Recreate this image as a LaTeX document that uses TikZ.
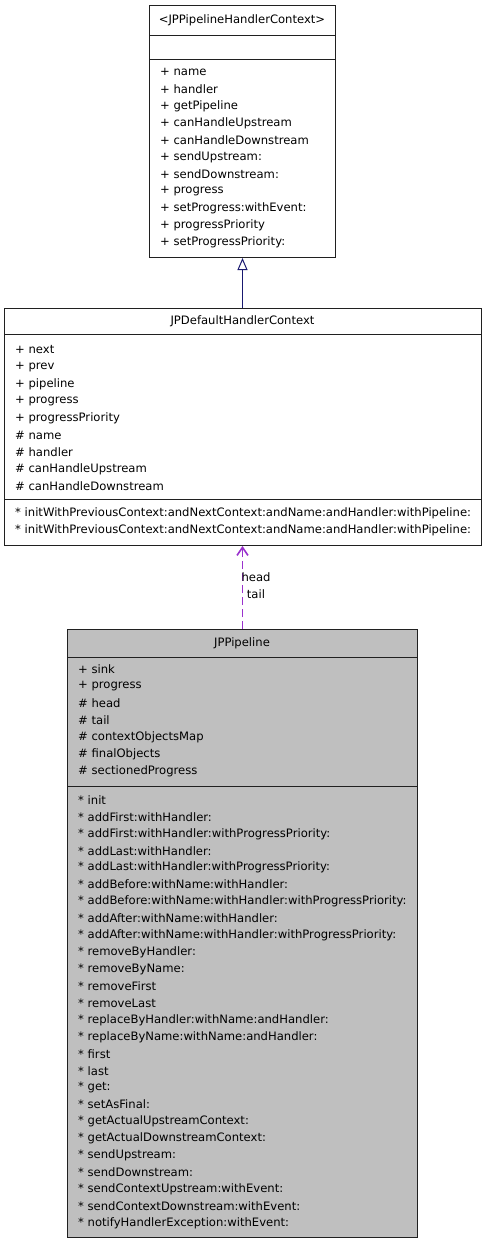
\documentclass[tikz,border=0pt]{standalone}
\usepackage{fontspec}
\setmainfont{DejaVu Sans}
\usetikzlibrary{arrows.meta}
\definecolor{edgenavy}{HTML}{191970}
\definecolor{edgepurple}{HTML}{9A32CD}
\definecolor{boxgray}{HTML}{BFBFBF}
\definecolor{boxline}{HTML}{202020}
\begin{document}
\begin{tikzpicture}[x=1pt,y=-1pt,
  txt/.style={font=\fontsize{11.6}{13}\selectfont, inner sep=0pt},
  item/.style={txt, anchor=west},
  umlbox/.style={draw=boxline, line width=1pt, anchor=north west, inner sep=0pt},
  sep/.style={draw=boxline, line width=1pt}]
\useasboundingbox (0,0) rectangle (485,1245);
\fill[white] (0,0) rectangle (485,1245);

% Box 1
\node[umlbox, fill=white, minimum width=186pt, minimum height=252pt] (c1) at (149,5) {};
\draw[sep] (149,35) -- (335,35);
\draw[sep] (149,59) -- (335,59);
\node[txt] (t1) at (242,20) {<JPPipelineHandlerContext>};
\foreach \s [count=\i from 0] in {+ name,+ handler,+ getPipeline,+ canHandleUpstream,+ canHandleDownstream,+ sendUpstream:,+ sendDownstream:,+ progress,+ setProgress:withEvent:,+ progressPriority,+ setProgressPriority:}
  \node[item] (a\i) at (160,72+17*\i) {\s};

% Box 2
\node[umlbox, fill=white, minimum width=477pt, minimum height=237pt] (c2) at (4,308) {};
\draw[sep] (4,334) -- (481,334);
\draw[sep] (4,499) -- (481,499);
\node[txt] (t2) at (242.5,321) {JPDefaultHandlerContext};
\foreach \s [count=\i from 0] in {+ next,+ prev,+ pipeline,+ progress,+ progressPriority,\# name,\# handler,\# canHandleUpstream,\# canHandleDownstream}
  \node[item] (b\i) at (15,350+17*\i) {\s};
\node[item] (bm0) at (15,513) {* initWithPreviousContext:andNextContext:andName:andHandler:withPipeline:};
\node[item] (bm1) at (15,530) {* initWithPreviousContext:andNextContext:andName:andHandler:withPipeline:};

% Box 3
\node[umlbox, fill=boxgray, minimum width=350pt, minimum height=608pt] (c3) at (67,629) {};
\draw[sep] (67,657) -- (417,657);
\draw[sep] (67,786) -- (417,786);
\node[txt] (t3) at (242,643) {JPPipeline};
\foreach \s [count=\i from 0] in {+ sink,+ progress,\# head,\# tail,\# contextObjectsMap,\# finalObjects,\# sectionedProgress}
  \node[item] (p\i) at (78,669+17*\i) {\s};
\foreach \s [count=\i from 0] in {* init,* addFirst:withHandler:,* addFirst:withHandler:withProgressPriority:,* addLast:withHandler:,* addLast:withHandler:withProgressPriority:,* addBefore:withName:withHandler:,* addBefore:withName:withHandler:withProgressPriority:,* addAfter:withName:withHandler:,* addAfter:withName:withHandler:withProgressPriority:,* removeByHandler:,* removeByName:,* removeFirst,* removeLast,* replaceByHandler:withName:andHandler:,* replaceByName:withName:andHandler:,* first,* last,* get:,* setAsFinal:,* getActualUpstreamContext:,* getActualDownstreamContext:,* sendUpstream:,* sendDownstream:,* sendContextUpstream:withEvent:,* sendContextDownstream:withEvent:,* notifyHandlerException:withEvent:}
  \node[item] (m\i) at (78,800+16.92*\i) {\s};

% Connectors
\draw[edgenavy, line width=1pt, -{Triangle[open, length=12pt, width=10pt]}] (c2.north -| c1.south) -- (c1.south);
\draw[edgepurple, line width=1.3pt, dash pattern=on 8pt off 4pt, -{Straight Barb[length=8pt, width=11pt, line width=1.6pt]}] (c3.north -| c1.south) -- (c2.south -| c1.south);
\node[txt, align=center] (lbl) at (256,585.5) {head\\[3.7pt]tail};
\end{tikzpicture}
\end{document}
